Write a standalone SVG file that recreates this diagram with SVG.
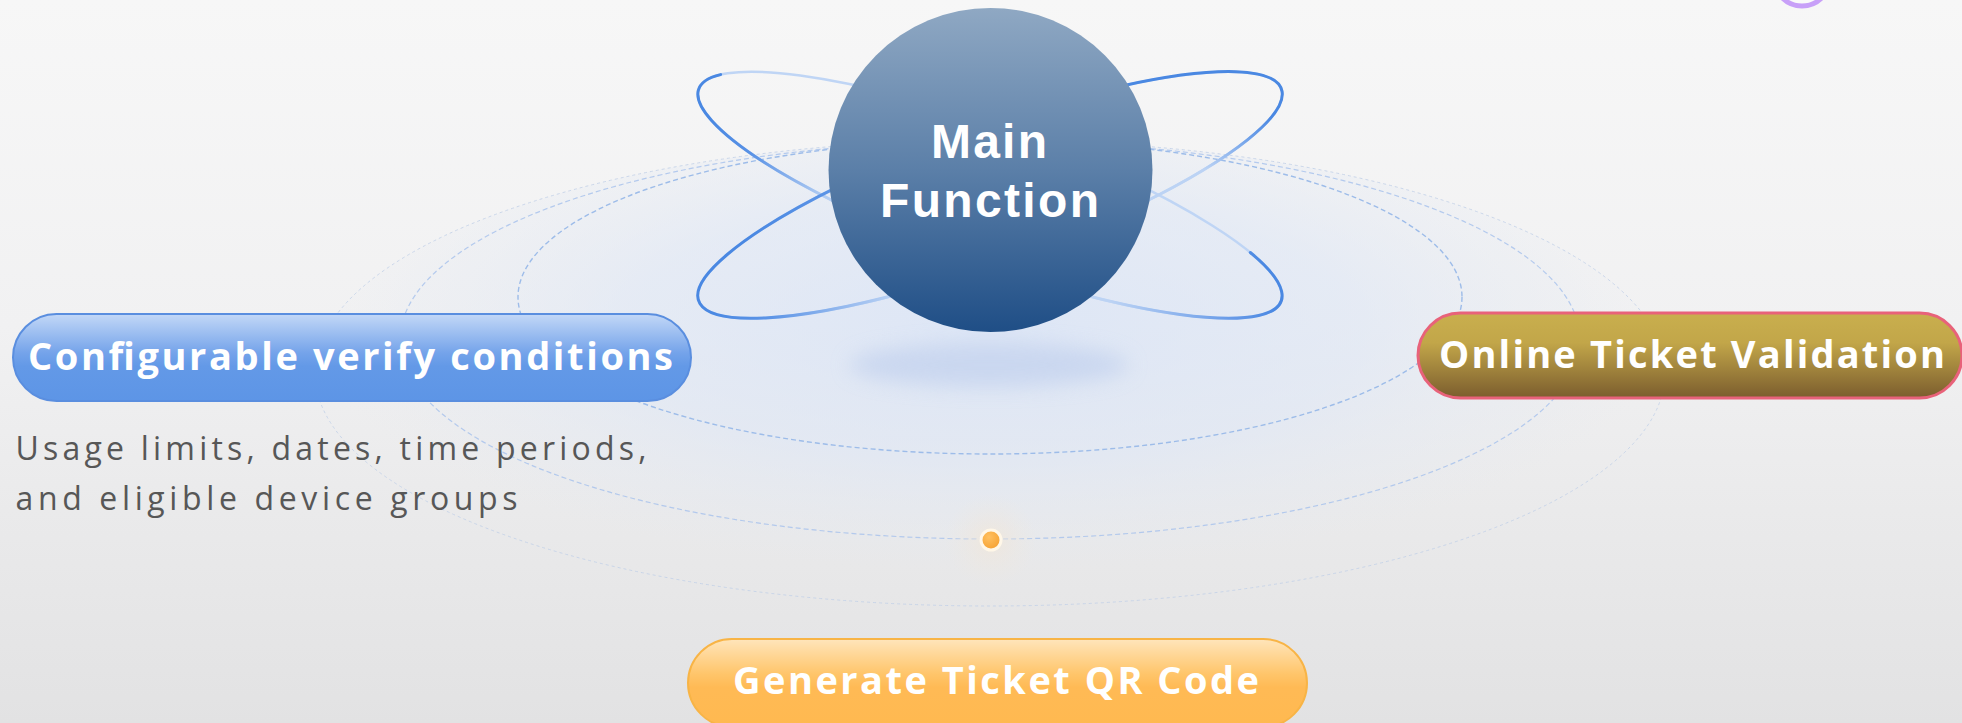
<svg xmlns="http://www.w3.org/2000/svg" width="1962" height="723" viewBox="0 0 1962 723">
  <defs>
    <linearGradient id="bg" x1="0" y1="0" x2="0" y2="1">
      <stop offset="0" stop-color="#f7f7f7"/>
      <stop offset="0.45" stop-color="#f1f1f2"/>
      <stop offset="1" stop-color="#e2e2e3"/>
    </linearGradient>
    <radialGradient id="groundFill" cx="990" cy="330" r="675" gradientUnits="userSpaceOnUse" gradientTransform="translate(990 330) scale(1 0.36) translate(-990 -330)">
      <stop offset="0" stop-color="#d6e2f7" stop-opacity="0.75"/>
      <stop offset="0.55" stop-color="#dbe5f6" stop-opacity="0.55"/>
      <stop offset="0.85" stop-color="#e2e8f2" stop-opacity="0.25"/>
      <stop offset="1" stop-color="#e6e9ef" stop-opacity="0"/>
    </radialGradient>
    <linearGradient id="mainFill" x1="0" y1="0" x2="0" y2="1">
      <stop offset="0" stop-color="#8fa8c3"/>
      <stop offset="0.5" stop-color="#5b7fa8"/>
      <stop offset="1" stop-color="#1f4e86"/>
    </linearGradient>
    <linearGradient id="blueFill" x1="0" y1="0" x2="0" y2="1">
      <stop offset="0" stop-color="#c3d8f7"/>
      <stop offset="0.45" stop-color="#74a3ea"/>
      <stop offset="0.6" stop-color="#6399e7"/>
      <stop offset="1" stop-color="#5d95e6"/>
    </linearGradient>
    <linearGradient id="goldFill" x1="0" y1="0" x2="0" y2="1">
      <stop offset="0" stop-color="#c9af4e"/>
      <stop offset="0.35" stop-color="#c2a649"/>
      <stop offset="1" stop-color="#7b5d2e"/>
    </linearGradient>
    <linearGradient id="orangeFill" x1="0" y1="0" x2="0" y2="1">
      <stop offset="0" stop-color="#ffe5bb"/>
      <stop offset="0.4" stop-color="#ffc56a"/>
      <stop offset="0.55" stop-color="#ffba55"/>
      <stop offset="1" stop-color="#ffb950"/>
    </linearGradient>
    <radialGradient id="dotFill" cx="0.4" cy="0.35" r="0.7">
      <stop offset="0" stop-color="#ffc060"/>
      <stop offset="1" stop-color="#f5a030"/>
    </radialGradient>
    <radialGradient id="dotGlow">
      <stop offset="0" stop-color="#f2e6d6" stop-opacity="0.7"/>
      <stop offset="1" stop-color="#eee8e0" stop-opacity="0"/>
    </radialGradient>
    <linearGradient id="gAL" gradientUnits="userSpaceOnUse" x1="715" y1="110" x2="835" y2="200">
      <stop offset="0" stop-color="#4a88e2"/>
      <stop offset="0.35" stop-color="#5891e5"/>
      <stop offset="1" stop-color="#bcd3f4"/>
    </linearGradient>
    <linearGradient id="gAR" gradientUnits="userSpaceOnUse" x1="1265" y1="265" x2="1110" y2="300">
      <stop offset="0" stop-color="#4a88e2"/>
      <stop offset="0.3" stop-color="#6a9ce8"/>
      <stop offset="1" stop-color="#bcd3f4"/>
    </linearGradient>
    <linearGradient id="gBR" gradientUnits="userSpaceOnUse" x1="1200" y1="100" x2="1185" y2="165">
      <stop offset="0" stop-color="#4a88e2"/>
      <stop offset="0.35" stop-color="#6a9de8"/>
      <stop offset="1" stop-color="#bcd3f4"/>
    </linearGradient>
    <linearGradient id="gBL" gradientUnits="userSpaceOnUse" x1="740" y1="250" x2="885" y2="320">
      <stop offset="0" stop-color="#4a88e2"/>
      <stop offset="0.35" stop-color="#5c94e6"/>
      <stop offset="1" stop-color="#bcd3f4"/>
    </linearGradient>
    <filter id="blur8" x="-30%" y="-100%" width="160%" height="300%">
      <feGaussianBlur stdDeviation="10"/>
    </filter>
    <style>
      .ring { fill: none; }
      .r1 { stroke: #9dbce9; stroke-width: 1.4; stroke-dasharray: 5 3; }
      .r2 { stroke: #a9c3ec; stroke-width: 1.2; stroke-dasharray: 5 3; opacity: 0.85; }
      .r3 { stroke: #c3d1e8; stroke-width: 1; stroke-dasharray: 3 3; opacity: 0.85; }
      .orbit { fill: none; stroke: #bfd5f5; stroke-width: 2.5; }
      .orbitDark { fill: none; stroke-width: 3; stroke-linecap: round; }
      .pillText { font-family: "Open Sans", "Noto Sans", "DejaVu Sans", sans-serif; font-weight: 700; font-size: 38px; fill: #ffffff; }
      .mainText { font-family: "Liberation Sans", Arial, sans-serif; font-weight: 700; font-size: 48px; fill: #ffffff; text-anchor: middle; }
      .desc { font-family: "Open Sans", "Noto Sans", "DejaVu Sans", sans-serif; font-size: 32px; fill: #575757; }
    </style>
  </defs>

  <rect x="0" y="0" width="1962" height="723" fill="url(#bg)"/>

  <g id="decor">
    <ellipse cx="990" cy="373" rx="675" ry="233" fill="url(#groundFill)"/>
    <ellipse class="ring r3" cx="990" cy="373" rx="675" ry="233"/>
    <ellipse class="ring r2" cx="990" cy="340" rx="590" ry="199"/>
    <ellipse class="ring r1" cx="990" cy="297" rx="472" ry="157"/>
    <ellipse cx="989" cy="365" rx="140" ry="22" fill="#c3d2ee" opacity="0.75" filter="url(#blur8)"/>
    <ellipse class="orbit" cx="990" cy="195" rx="310" ry="67" transform="rotate(20 990 195)"/>
    <ellipse class="orbit" cx="990" cy="195" rx="310" ry="67" transform="rotate(-20 990 195)"/>
    <path class="orbitDark" stroke="url(#gAL)" d="M720.6,74.6 A310,67 20 0 0 835.4,202"/>
    <path class="orbitDark" stroke="url(#gAR)" d="M1250.3,252.5 A310,67 20 0 1 1074.3,292.1"/>
    <path class="orbitDark" stroke="url(#gBR)" d="M1122,86 A310,67 -20 0 1 1142.5,203"/>
    <path class="orbitDark" stroke="url(#gBL)" d="M839.6,185.9 A310,67 -20 0 0 903.5,292.7"/>
    <circle cx="991" cy="540" r="46" fill="url(#dotGlow)"/>
    <circle cx="991" cy="540" r="10" fill="url(#dotFill)" stroke="#fff7e8" stroke-width="3"/>
    <circle cx="1802" cy="-22" r="28" fill="#fafafa" stroke="#c8a0f8" stroke-width="5"/>
  </g>

  <g id="connectors"></g>

  <g id="node-main">
    <circle cx="990.5" cy="170" r="162" fill="url(#mainFill)"/>
    <text class="mainText" x="989" y="158" textLength="116" lengthAdjust="spacing">Main</text>
    <text class="mainText" x="989.5" y="217" textLength="219" lengthAdjust="spacing">Function</text>
  </g>

  <g id="node-configurable">
    <rect x="13" y="314" width="678" height="87" rx="43.5" fill="url(#blueFill)" stroke="#5a8edf" stroke-width="2"/>
    <text class="pillText" x="28" y="370" textLength="645" lengthAdjust="spacing">Configurable verify conditions</text>
    <text class="desc" x="15.5" y="460" textLength="631" lengthAdjust="spacing">Usage limits, dates, time periods,</text>
    <text class="desc" x="15.5" y="510" textLength="502" lengthAdjust="spacing">and eligible device groups</text>
  </g>

  <g id="node-online">
    <rect x="1418" y="313" width="544" height="85" rx="42.5" fill="url(#goldFill)" stroke="#e8627a" stroke-width="3"/>
    <text class="pillText" x="1439" y="368" textLength="506" lengthAdjust="spacing">Online Ticket Validation</text>
  </g>

  <g id="node-generate">
    <rect x="688" y="639" width="619" height="88" rx="44" fill="url(#orangeFill)" stroke="#f8b446" stroke-width="2"/>
    <text class="pillText" x="733" y="694" textLength="526" lengthAdjust="spacing">Generate Ticket QR Code</text>
  </g>
</svg>
